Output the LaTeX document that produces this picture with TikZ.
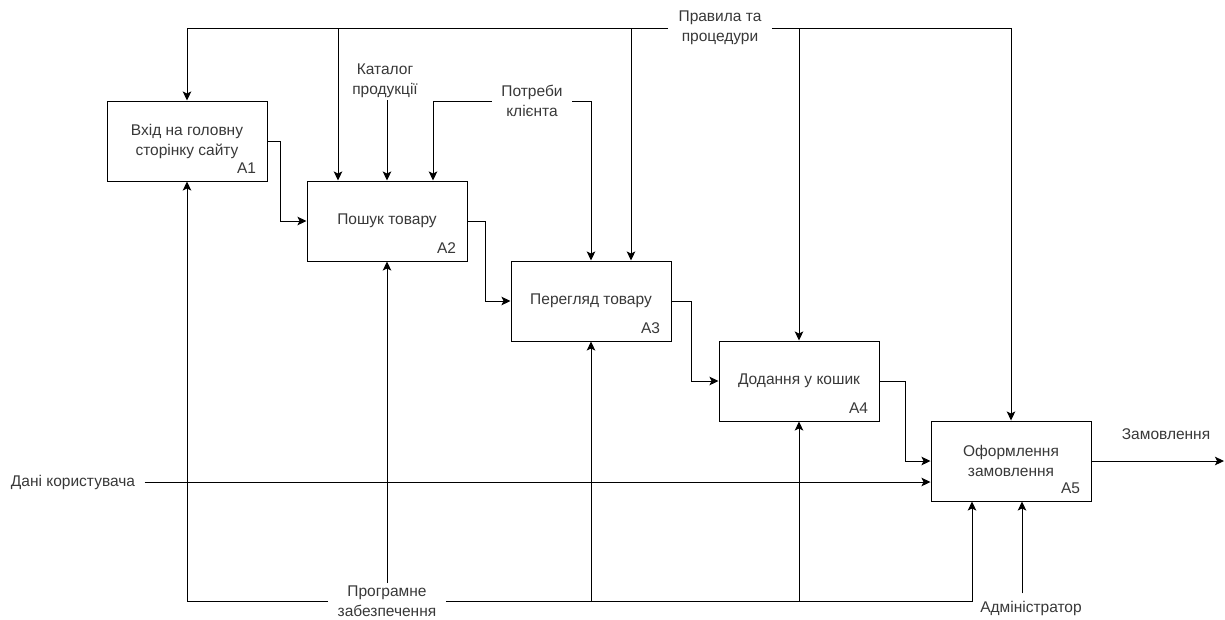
\documentclass[tikz,border=0pt]{standalone}
\usepackage{fontspec}
\setmainfont{Liberation Sans}
\usepackage{tikz}
\usetikzlibrary{calc, arrows.meta, positioning}

\definecolor{labelgray}{HTML}{383838}

\begin{document}
\begin{tikzpicture}[x = 1pt, y = -1pt, line width = 1pt,
	activity/.style = {draw, minimum width = 160pt, minimum height = 80pt, align = center, text = labelgray, font = \fontsize{15.5}{20}\selectfont},
	idlabel/.style = {inner sep = 0pt, text = labelgray, font = \fontsize{15.5}{18}\selectfont},
	arrowlabel/.style = {inner xsep = 9pt, inner ysep = 2pt, align = center, text = labelgray, font = \fontsize{15.5}{20}\selectfont},
	flow/.style = {-{Stealth[length = 9pt, width = 8.5pt, inset = 2pt]}}]
	
	\useasboundingbox (0,0) rectangle (1225,619);
	
	\foreach \n/\x/\y/\t in {1/187/141/{Вхід на головну\\сторінку сайту}, 2/387/221/{Пошук товару}, 3/591/301/{Перегляд товару}, 4/799/381/{Додання у кошик}, 5/1011/461/{Оформлення\\замовлення}}
	{
		\node [activity] (a\n) at (\x,\y) {\t};
		\node [idlabel, anchor = base east] (id\n) at ($(a\n.south east)+(-11,-8.5)$) {A\n};
	}
	
	\node [arrowlabel, inner xsep = 10pt] (rules) at (720,28) {Правила та\\процедури};
	\node [arrowlabel] (catalog) at (385,81) {Каталог\\продукції};
	\node [arrowlabel] (needs) at (532,101) {Потреби\\клієнта};
	\node [arrowlabel] (userdata) at (73,482) {Дані користувача};
	\node [arrowlabel] (software) at (387,601) {Програмне\\забезпечення};
	\node [arrowlabel, inner ysep = 7pt] (admin) at (1031,608) {Адміністратор};
	\node [arrowlabel] (order) at (1166,434) {Замовлення};
	
	\coordinate (rulesA2) at ($(a2.north)+(-49,0)$);
	\coordinate (rulesA3) at ($(a3.north)+(40,0)$);
	\coordinate (needsA2) at ($(a2.north)+(46,0)$);
	\coordinate (softA5) at ($(a5.south)+(-39,0)$);
	\coordinate (adminA5) at ($(a5.south)+(11,0)$);
	\coordinate (orderend) at (1224,461);
	
	\begin{scope}[flow]
		\draw (a1.east) -- ++(13,0) |- (a2.west);
		\draw (a2.east) -- ++(18,0) |- (a3.west);
		\draw (a3.east) -- ++(20,0) |- (a4.west);
		\draw (a4.east) -- ++(26,0) |- (a5.west);
		\draw (a5.east) -- (orderend);
		
		\draw (rules.west) -| (a1.north);
		\draw (rules.east) -| (a5.north);
		\draw (rulesA2 |- rules.west) -- (rulesA2);
		\draw (rulesA3 |- rules.west) -- (rulesA3);
		\draw (a4.north |- rules.west) -- (a4.north);
		
		\draw (catalog.south -| a2.north) -- (a2.north);
		\draw (needs.west) -| (needsA2);
		\draw (needs.east) -| (a3.north);
		
		\draw (userdata.east) -- (userdata.east -| a5.west);
		
		\draw (software.west) -| (a1.south);
		\draw (software.north) -- (a2.south);
		\draw (software.east) -| (softA5);
		\foreach \n in {3,4}
		{
			\draw (a\n.south |- software.east) -- (a\n.south);
		}
		
		\draw (admin.north -| adminA5) -- (adminA5);
	\end{scope}
\end{tikzpicture}
\end{document}
